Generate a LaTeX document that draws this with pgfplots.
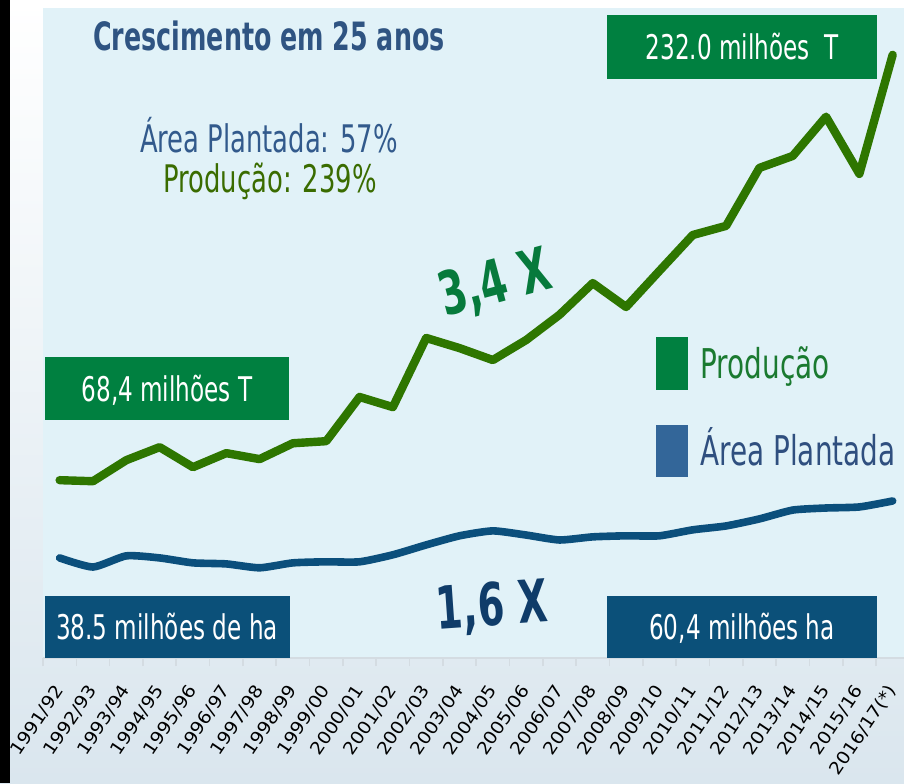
\documentclass[border=0pt]{standalone}
\usepackage{fontspec}
\setmainfont{DejaVu Sans}[FakeStretch=0.68]
\newfontfamily\bfam{DejaVu Sans}[FakeStretch=0.65]
\newfontfamily\tfam{DejaVu Sans}[FakeStretch=1.1]
\usepackage{pgfplots}
\pgfplotsset{compat=1.18}
\definecolor{panelbg}{RGB}{225,242,248}
\definecolor{bgb}{RGB}{218,230,238}
\definecolor{prodline}{RGB}{46,118,0}
\definecolor{arealine}{RGB}{11,79,124}
\definecolor{gbox}{RGB}{0,128,64}
\definecolor{bbox}{RGB}{11,80,121}
\definecolor{titlec}{RGB}{47,84,130}
\definecolor{areatxt}{RGB}{50,90,140}
\definecolor{prodtxt}{RGB}{58,108,0}
\definecolor{bigg}{RGB}{6,122,60}
\definecolor{bign}{RGB}{15,60,105}
\definecolor{leggreen}{RGB}{0,128,64}
\definecolor{legblue}{RGB}{51,102,153}
\definecolor{legptxt}{RGB}{26,122,48}
\definecolor{legatxt}{RGB}{47,79,127}
\definecolor{axgrey}{RGB}{212,220,226}
\begin{document}
\begin{tikzpicture}
\begin{scope}[x=0.5pt,y=-0.5pt]
\shade[top color=white, bottom color=bgb] (0,0) rectangle (904,783);
\fill[black] (0,0) rectangle (10,783);
\end{scope}
\begin{axis}[
  at={(21.5pt,-329pt)}, anchor=south west,
  scale only axis, width=430.5pt, height=325pt,
  xmin=-0.5, xmax=25.34, ymin=0, ymax=250,
  axis background/.style={fill=panelbg},
  axis x line=bottom, axis y line=none,
  axis line style={axgrey, line width=0.8pt, -},
  tick align=outside,
  xtick={0,...,25},
  major tick length=0pt,
  minor xtick={-0.5,0.5,...,25.5},
  minor tick length=4pt,
  minor tick style={axgrey, line width=0.8pt},
  xticklabels={1991/92,1992/93,1993/94,1994/95,1995/96,1996/97,1997/98,1998/99,1999/00,2000/01,2001/02,2002/03,2003/04,2004/05,2005/06,2006/07,2007/08,2008/09,2009/10,2010/11,2011/12,2012/13,2013/14,2014/15,2015/16,2016/17(*)},
  xticklabel style={yshift=-14.5pt, xshift=0pt, rotate=56, anchor=east, font=\tfam\fontsize{8.7}{10}\selectfont, inner sep=0pt},
  ytick=\empty,
]
\addplot[arealine, line width=3.8pt, line join=round, line cap=round, smooth, tension=0.35] coordinates {
(0,38.5)(1,35.0)(2,39.3)(3,38.5)(4,36.6)(5,36.2)(6,34.7)(7,36.6)(8,37.0)(9,37.0)(10,39.7)(11,43.5)(12,47.0)(13,48.9)(14,47.3)(15,45.4)(16,46.6)(17,47.0)(18,47.0)(19,49.3)(20,50.8)(21,53.5)(22,56.9)(23,57.7)(24,58.1)(25,60.4)};
\addplot[prodline, line width=4.2pt, line join=round, line cap=round] coordinates {
(0,68.4)(1,68.0)(2,76.1)(3,81.1)(4,73.4)(5,78.8)(6,76.5)(7,82.6)(8,83.4)(9,100.4)(10,96.5)(11,123.1)(12,119.2)(13,114.6)(14,122.3)(15,132.0)(16,144.2)(17,135.0)(18,148.9)(19,162.7)(20,166.2)(21,188.5)(22,193.1)(23,208.2)(24,186.2)(25,232.0)};
\end{axis}
\begin{scope}[x=0.5pt,y=-0.5pt]
% boxes
\fill[gbox] (45,357) rectangle (289,420);
\node[white, anchor=base, font=\fontsize{17}{20}\selectfont] at (167,401) {68,4 milhões T};
\fill[gbox] (607,15) rectangle (877,79);
\node[white, anchor=base, font=\fontsize{17}{20}\selectfont] at (742,59) {232.0 milhões\ \ T};
\fill[bbox] (45,596) rectangle (290,658);
\node[white, anchor=base, font=\fontsize{17}{20}\selectfont] at (167,639) {38.5 milhões de ha};
\fill[bbox] (607,596) rectangle (877,658);
\node[white, anchor=base, font=\fontsize{17}{20}\selectfont] at (742,639) {60,4 milhões ha};
% titles
\node[titlec, anchor=base, font=\bfam\bfseries\fontsize{19.5}{22}\selectfont] at (269,50) {Crescimento em 25 anos};
\node[areatxt, anchor=base, font=\fontsize{19}{22}\selectfont] at (269,152) {Área Plantada: 57\%};
\node[prodtxt, anchor=base, font=\fontsize{19}{22}\selectfont] at (270,192) {Produção: 239\%};
% big factors
\node[bigg, rotate=15, font=\bfam\bfseries\fontsize{30}{34}\selectfont] at (495,285) {3,4 X};
\node[bign, rotate=4, font=\bfam\bfseries\fontsize{29.5}{34}\selectfont] at (492,608) {1,6 X};
% legend
\fill[leggreen] (656,337) rectangle (688,390);
\node[legptxt, anchor=base west, inner sep=0pt, font=\fontsize{20.5}{24}\selectfont] at (700,378) {Produção};
\fill[legblue] (656,425) rectangle (688,477);
\node[legatxt, anchor=base west, inner sep=0pt, font=\fontsize{20.5}{24}\selectfont] at (700,465) {Área Plantada};
\end{scope}
\pgfresetboundingbox
\useasboundingbox (0,0) rectangle (452pt,-391.5pt);
\end{tikzpicture}
\end{document}
